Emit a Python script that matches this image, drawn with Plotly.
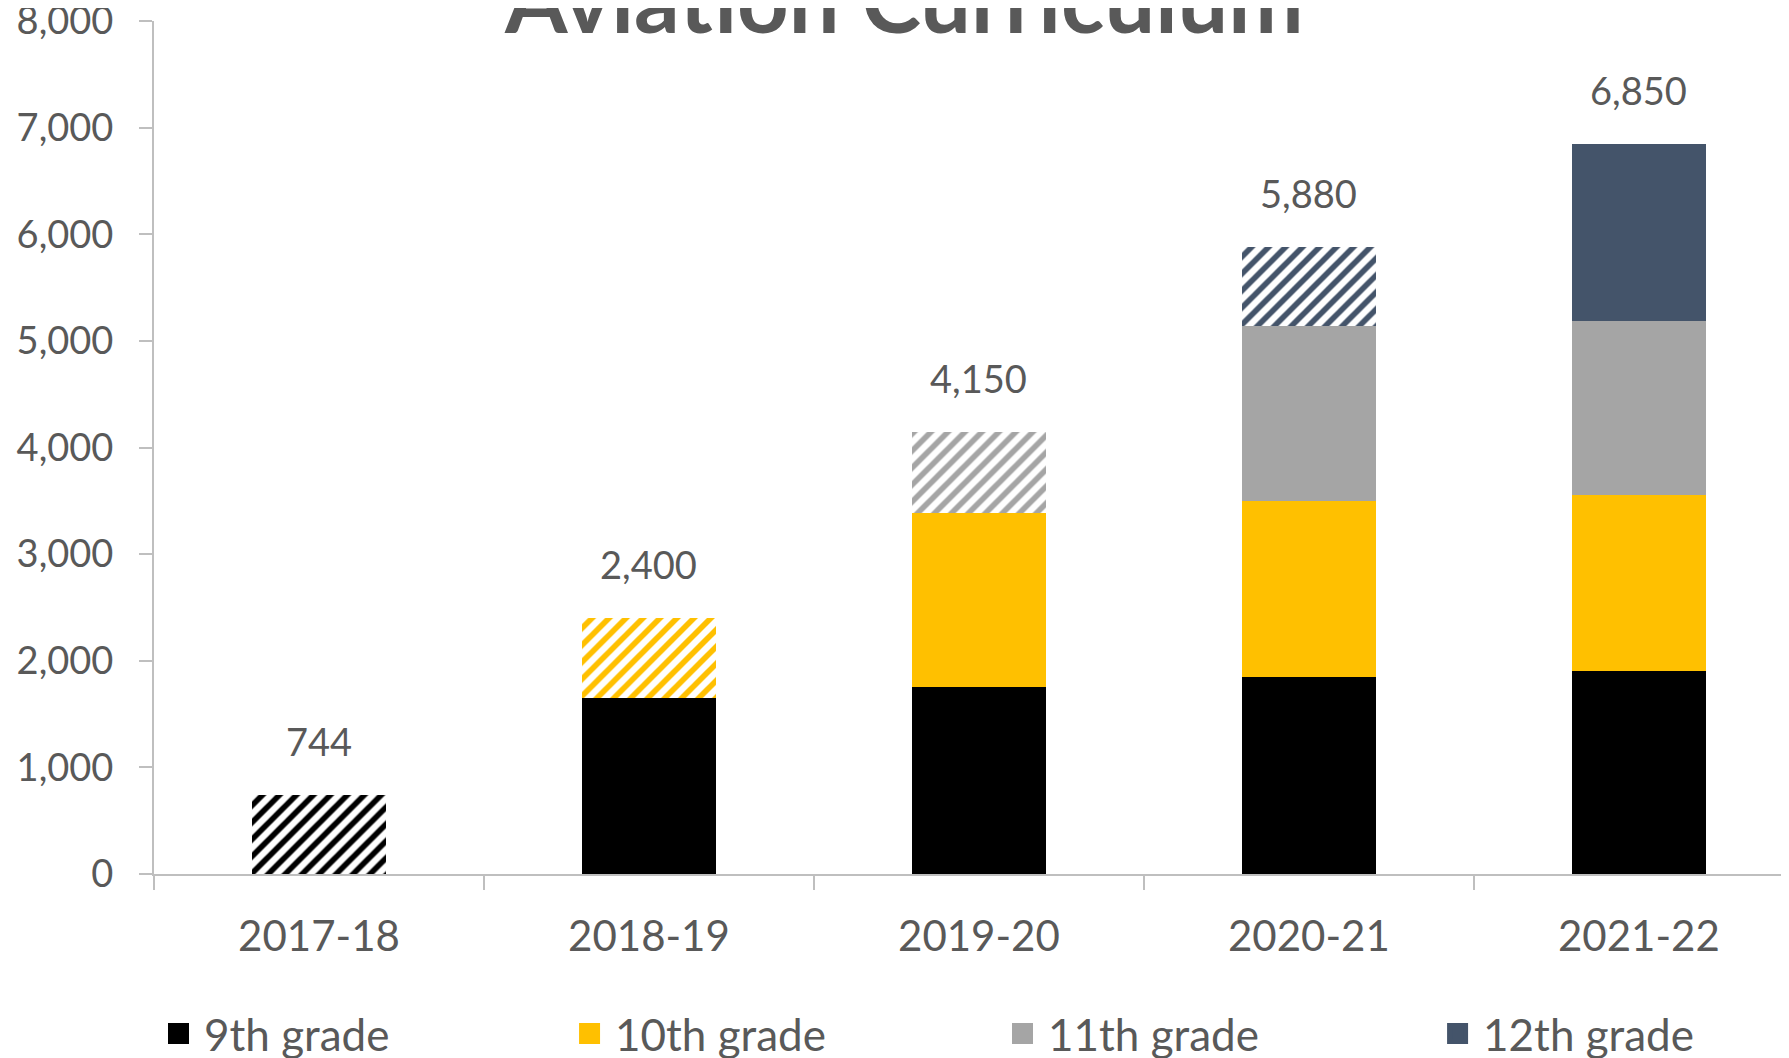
import plotly.graph_objects as go

years = ["2017-18", "2018-19", "2019-20", "2020-21", "2021-22"]
grades = ["9th grade", "10th grade", "11th grade", "12th grade"]

grade_9 = [744, 1650, 1750, 1850, 1900]
grade_10 = [None, 750, 1640, 1650, 1650]
grade_11 = [None, None, 760, 1640, 1640]
grade_12 = [None, None, None, 740, 1660]

# segments drawn hatched (newly added cohort in that year)
hatch_9 = [True, False, False, False, False]
hatch_10 = [False, True, False, False, False]
hatch_11 = [False, False, True, False, False]
hatch_12 = [False, False, False, True, False]

colors = ["#000000", "#FFC000", "#A5A5A5", "#44546A"]
title_text = "Aviation Curriculum"

series = [grade_9, grade_10, grade_11, grade_12]
hatches = [hatch_9, hatch_10, hatch_11, hatch_12]
totals = [sum(v[i] or 0 for v in series) for i in range(len(years))]

TXT = "#595959"
AX = "#BFBFBF"
FONT = "Lato"

fig = go.Figure()
for name, vals, h, c in zip(grades, series, hatches, colors):
    fig.add_trace(go.Bar(
        x=years, y=vals, name=name, showlegend=False, hoverinfo="skip",
        marker=dict(
            color=c, line=dict(width=0),
            pattern=dict(shape=["/" if f else "" for f in h], fgcolor=c,
                         bgcolor="white", size=12, solidity=0.47,
                         fillmode="replace"),
        ),
    ))

legend_ids = ["legend", "legend2", "legend3", "legend4"]
legend_x = [-0.0006, 0.2508, 0.5156, 0.7817]
for name, c, lid in zip(grades, colors, legend_ids):
    fig.add_trace(go.Scatter(
        x=[None], y=[None], mode="markers", name=name, legend=lid,
        marker=dict(symbol="square", size=16, color=c, line=dict(color=c, width=5)),
    ))

for yr, tot in zip(years, totals):
    fig.add_annotation(x=yr, y=tot, text=f"{tot:,}", showarrow=False,
                       yanchor="middle", yshift=54,
                       font=dict(family=FONT, size=38, color=TXT))

fig.add_annotation(xref="paper", yref="paper", x=0.459, y=1, yanchor="bottom",
                   yshift=-33, text=f"<b>{title_text}</b>", showarrow=False,
                   font=dict(family=FONT, size=90, color=TXT))

legend_style = dict(orientation="h", xanchor="left", y=-0.1876, yanchor="middle",
                    font=dict(family=FONT, size=44, color=TXT), itemwidth=41,
                    bgcolor="rgba(0,0,0,0)", borderwidth=0)
legends = {lid: dict(legend_style, x=lx) for lid, lx in zip(legend_ids, legend_x)}

fig.update_layout(
    width=1781, height=1050,
    margin=dict(l=146, r=0, t=13, b=184, pad=0, autoexpand=False),
    barmode="stack", bargap=0.595,
    plot_bgcolor="white", paper_bgcolor="white",
    font=dict(family=FONT, color=TXT),
    **legends,
    xaxis=dict(type="category", range=[-0.5, 4.455], tickson="boundaries",
               ticks="outside", ticklen=14, tickwidth=2, tickcolor=AX,
               showline=True, linecolor=AX, linewidth=2, showgrid=False,
               zeroline=False, automargin=False, ticklabelstandoff=25,
               tickfont=dict(family=FONT, size=42, color=TXT)),
    yaxis=dict(range=[0, 8000], tickvals=[0, 1000, 2000, 3000, 4000, 5000, 6000, 7000, 8000],
               tickformat=",", ticks="outside", ticklabeloverflow="allow",
               ticklen=13, tickwidth=2, tickcolor=AX, showline=True,
               linecolor=AX, linewidth=2, showgrid=False, zeroline=False,
               automargin=False, ticklabelstandoff=18,
               tickfont=dict(family=FONT, size=38, color=TXT)),
)

fig.write_html("out.html")
